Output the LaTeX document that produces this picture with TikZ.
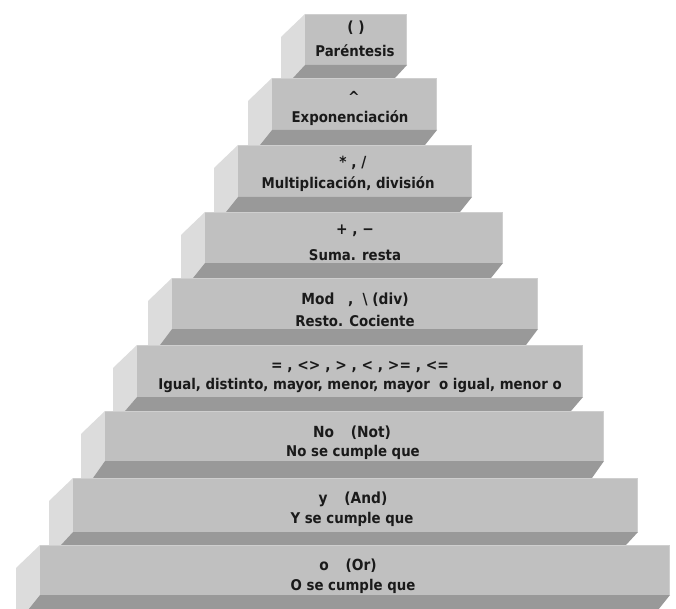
\documentclass[tikz,border=0pt]{standalone}
\usepackage{fontspec}
\setmainfont{DejaVu Sans Condensed}
\begin{document}
\begin{tikzpicture}[x=1pt,y=-1pt,
  frontface/.style={fill=frontc},
  sideface/.style={fill=sidec},
  underface/.style={fill=darkc},
  topline/.style={draw=edgec,line width=1pt},
  lblA/.style={font=\fontsize{15.3}{17}\selectfont\bfseries,text=txtc,inner sep=0pt,anchor=base},
  lblB/.style={font=\fontsize{14.8}{17}\selectfont\bfseries,text=txtc,inner sep=0pt,anchor=base}]
\definecolor{frontc}{HTML}{C0C0C0}
\definecolor{sidec}{HTML}{DCDCDC}
\definecolor{darkc}{HTML}{999999}
\definecolor{edgec}{HTML}{CFCFCF}
\definecolor{txtc}{HTML}{1A1A1A}
\useasboundingbox (0,0) rectangle (676,609);
\fill[white] (0,0) rectangle (676,609);
\foreach \xl/\xr/\yt/\yb/\yd in {305/407/14/65/78, 272/437/78/130/145, 238/472/145/197/212, 205/503/212/263/278, 172/538/278/329/345, 137/583/345/397/411, 105/604/411/461/478, 73/638/478/532/545, 40/670/545/595/610}{
  \fill[sideface] (\xl,\yt) -- (\xl-24,\yt+23) -- (\xl-24,\yd) -- (\xl-12,\yd) -- (\xl,\yb) -- cycle;
  \fill[frontface] (\xl,\yt) rectangle (\xr,\yb);
  \draw[topline] (\xl,\yt+0.5) -- (\xr-0.5,\yt+0.5) -- (\xr-0.5,\yb);
  \fill[underface] (\xl,\yb) -- (\xr,\yb) -- (\xr-12,\yd) -- (\xl-12,\yd) -- cycle;
}
% texts (base positions)
\node[lblA] (t1a) at (356,33) {( )};
\node[lblB] (t1b) at (355,57) {Paréntesis};
\node[lblA] (t2a) at (354,103) {\textasciicircum};
\node[lblB] (t2b) at (350,123) {Exponenciación};
\node[lblA] (t3a) at (353,168) {* , /};
\node[lblB] (t3b) at (348,189) {Multiplicación, división};
\node[lblA] (t4a) at (355,235) {+ , −};
\node[lblB] (t4b) at (355,260) {Suma. resta};
\node[lblA] (t5a) at (355,304) {Mod\hspace{0.9em},\hspace{0.6em}\textbackslash\ (div)};
\node[lblB] (t5b) at (355,326) {Resto. Cociente};
\node[lblA] (t6a) at (360,370) {= , <> , > , < , >= , <=};
\node[lblB] (t6b) at (360,389) {Igual, distinto, mayor, menor, mayor\ \ o igual, menor o};
\node[lblA] (t7a) at (352,437) {No\hspace{1.1em}(Not)};
\node[lblB] (t7b) at (353,456) {No se cumple que};
\node[lblA] (t8a) at (353,503) {y\hspace{1.1em}(And)};
\node[lblB] (t8b) at (352,523) {Y se cumple que};
\node[lblA] (t9a) at (348,570) {o\hspace{1.1em}(Or)};
\node[lblB] (t9b) at (353,590) {O se cumple que};
\end{tikzpicture}
\end{document}
